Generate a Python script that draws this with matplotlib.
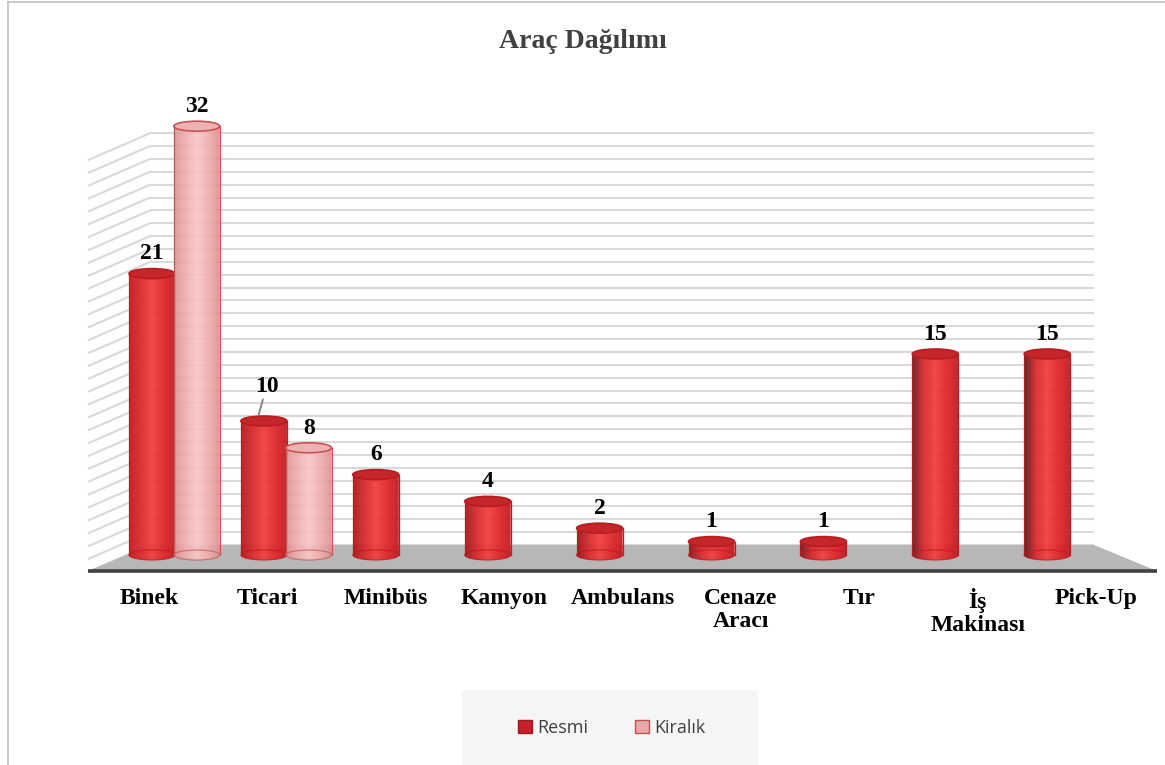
import numpy as np
import matplotlib.pyplot as plt
from matplotlib.patches import Ellipse, PathPatch, Rectangle, Patch, Polygon
from matplotlib.path import Path
from matplotlib.lines import Line2D
from matplotlib.colors import LinearSegmentedColormap

# data
categories = ['Binek', 'Ticari', 'Minibüs', 'Kamyon', 'Ambulans',
              'Cenaze\nAracı', 'Tır', 'İş\nMakinası', 'Pick-Up']
resmi = [21, 10, 6, 4, 2, 1, 1, 15, 15]
kiralik = [32, 8, None, None, None, None, None, None, None]
series_names = ['Resmi', 'Kiralık']
grid_values = list(range(0, 33))

# pseudo 3D frame (x in category slots, y in value units)
PX, PY = 111.9, 13.4          # pixels per slot / per unit
X0, Y0 = 152, 555             # pixel position of slot 0, value 0
back_base, back_scale = 10 / PY, 12.87 / PY
wall_left, wall_right = -2 / PX, 942 / PX
side_dx, side_dy = -62 / PX, -27 / PY
floor_front = -16 / PY
front_left, front_right = -64 / PX, 1005 / PX
bar_w, cap_h = 46 / PX, 10 / PY
kir_off = 0.4

serif = 'Liberation Serif'

fig = plt.figure(figsize=(11.65, 7.65), dpi=100)
ax = fig.add_axes([0, 0, 1, 1])
ax.axis('off')

# back wall + left wall gridlines
for g in grid_values:
    yb = back_base + g * back_scale
    ax.plot([wall_left, wall_right], [yb, yb], color='#d9d9d9', lw=1.5, zorder=1,
            solid_capstyle='butt')
    ax.plot([wall_left + side_dx, wall_left], [yb + side_dy, yb], color='#d9d9d9',
            lw=1.5, zorder=1, solid_capstyle='butt')

# floor
ax.add_patch(Polygon([[wall_left, back_base], [wall_right, back_base],
                      [front_right, floor_front], [front_left, floor_front]],
                     closed=True, facecolor='#b7b7b7', edgecolor='none', zorder=2))
ax.plot([front_left, front_right], [floor_front, floor_front], color='#404040',
        lw=2.6, zorder=2.5, solid_capstyle='butt')


def cylinder(xc, val, colors, top_fc, edge, alpha, z):
    x0, x1 = xc - bar_w / 2, xc + bar_w / 2
    t = np.linspace(np.pi, 2 * np.pi, 60)
    arc = np.column_stack([xc + bar_w / 2 * np.cos(t), cap_h / 2 * np.sin(t)])
    verts = np.vstack([[x0, val], arc, [x1, val], [x0, val]])
    clip = PathPatch(Path(verts), transform=ax.transData, facecolor='none',
                     edgecolor='none')
    ax.add_patch(clip)
    cmap = LinearSegmentedColormap.from_list('cyl', colors)
    grad = np.linspace(0, 1, 256).reshape(1, -1)
    im = ax.imshow(grad, cmap=cmap, extent=(x0, x1, -cap_h / 2, val), aspect='auto',
                   alpha=alpha, zorder=z, interpolation='bilinear')
    im.set_clip_path(clip)
    ax.plot([x0, x0], [0, val], color=edge, lw=0.9, zorder=z + 0.01)
    ax.plot([x1, x1], [0, val], color=edge, lw=0.9, zorder=z + 0.01)
    ax.add_patch(Ellipse((xc, 0), bar_w, cap_h, facecolor='none', edgecolor=edge,
                         lw=0.9, alpha=0.7, zorder=z + 0.01))
    ax.add_patch(Ellipse((xc, val), bar_w, cap_h, facecolor=top_fc, edgecolor=edge,
                         lw=1.2, zorder=z + 0.02))


z = 3
for i, cat in enumerate(categories):
    k = i / (len(categories) - 1)
    left = (0.78 - 0.45 * k, 0.10 + 0.02 * k, 0.11 + 0.02 * k)
    cylinder(i, resmi[i], [left, '#d92a2d', '#f0403f', '#e0282c', '#c01e23'],
             '#c4262a', '#b81c20', 0.95, z)
    z += 0.1
    if kiralik[i] is not None:
        cylinder(i + kir_off, kiralik[i],
                 ['#dc9494', '#efaeae', '#fac6c6', '#eeaeae', '#d89292'],
                 '#efb2b2', '#c65656', 0.92, z)
        z += 0.1

# value labels
lbl = dict(ha='center', va='bottom', fontsize=17, fontweight='bold',
           family=serif, zorder=10)
leader = {1}
for i, v in enumerate(resmi):
    if i in leader:
        ax.annotate(str(v), (i - 0.05, v + cap_h / 2), xytext=(6, 14),
                    textcoords='offset points',
                    arrowprops=dict(arrowstyle='-', color='#808080', lw=1.3,
                                    shrinkA=0, shrinkB=1), **lbl)
    else:
        ax.annotate(str(v), (i, v + cap_h / 2), xytext=(0, 3),
                    textcoords='offset points', **lbl)
for i, v in enumerate(kiralik):
    if v is not None:
        ax.annotate(str(v), (i + kir_off, v + cap_h / 2), xytext=(0, 3),
                    textcoords='offset points', **lbl)

# category labels on the front edge (slightly wider spacing: perspective)
for i, cat in enumerate(categories):
    ax.text(i * 1.058 - 0.027, floor_front - 1.3, cat, ha='center', va='top',
            fontsize=17, fontweight='bold', family=serif, linespacing=1.08)

ax.set_xlim(-X0 / PX, (1165 - X0) / PX)
ax.set_ylim((Y0 - 765) / PY, Y0 / PY)

# title
fig.text(583 / 1165, 1 - 42 / 765, 'Araç Dağılımı', ha='center', va='center',
         fontsize=20, fontweight='bold', family=serif, color='#404040')

# legend with grey backdrop
fig.patches.append(Rectangle((462 / 1165, 0), 296 / 1165, 75 / 765,
                             transform=fig.transFigure, facecolor='#f5f5f5',
                             edgecolor='none', zorder=0))
handles = [Patch(facecolor='#c8202a', edgecolor='#9a1a1e'),
           Patch(facecolor='#e6a8a8', edgecolor='#c0504d')]
leg = fig.legend(handles, series_names, loc='center', ncol=2, frameon=False,
                 bbox_to_anchor=(612 / 1165, 1 - 728 / 765),
                 prop={'family': 'Open Sans', 'size': 13}, handlelength=0.75,
                 handleheight=0.75, handletextpad=0.3, columnspacing=2.6)
for t in leg.get_texts():
    t.set_color('#404040')

# chart border
fig.add_artist(Line2D([8 / 1165, 8 / 1165], [0, 1 - 2 / 765], color='#c0c0c0', lw=1.2))
fig.add_artist(Line2D([8 / 1165, 1], [1 - 2 / 765, 1 - 2 / 765], color='#c0c0c0', lw=1.2))

plt.savefig('out.png')
